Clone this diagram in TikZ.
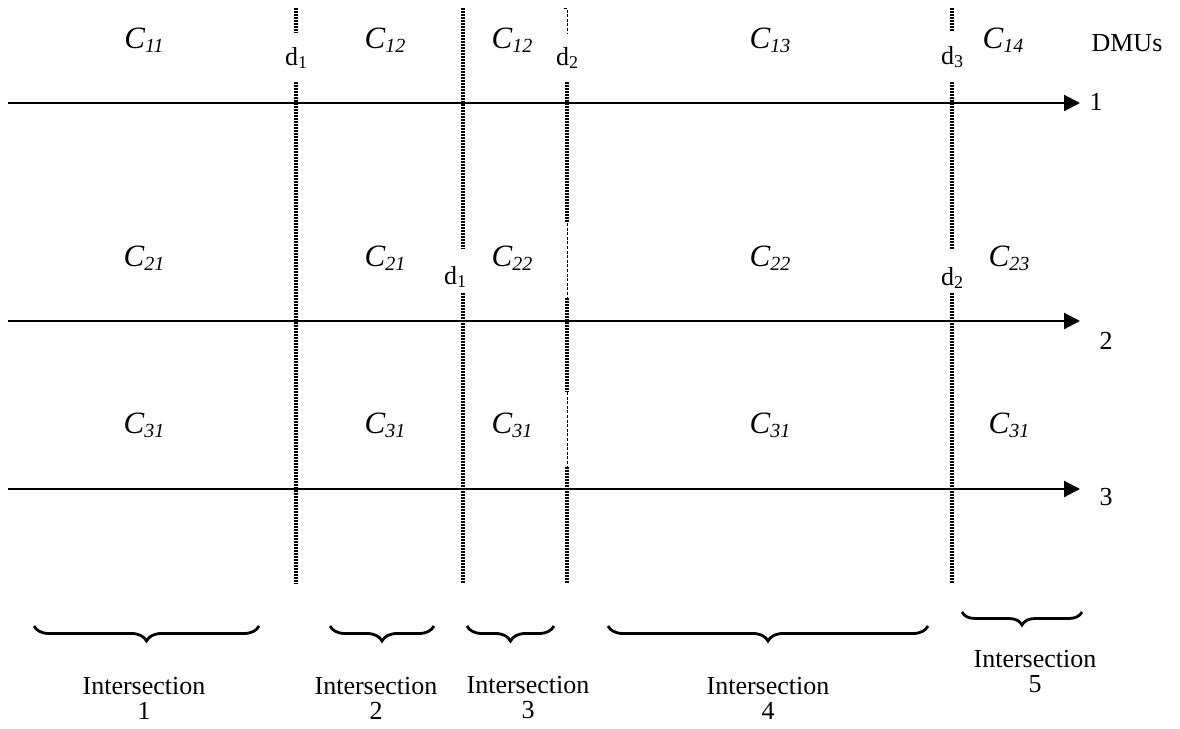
\documentclass[tikz,border=0pt]{standalone}
\usepackage{fontspec}
\setmainfont{Liberation Serif}
\usetikzlibrary{arrows.meta, decorations.pathreplacing}

\tikzset{
  axis/.style={line width=1.1pt, -{Triangle[length=8pt, width=8pt]}},
  beads/.style={line width=1.8pt, dash pattern=on 0.75pt off 0.75pt},
  thinseg/.style={line width=0.4pt, dash pattern=on 1.5pt off 0.8pt},
  cost/.style={font=\fontsize{15.5}{17}\selectfont\itshape},
  lbl/.style={font=\fontsize{13}{12.5}\selectfont},
  group/.style={decorate, decoration={brace, mirror, amplitude=7.5pt}, line width=1.4pt},
}
\newcommand{\cst}[1]{C\raisebox{-2pt}{\fontsize{10}{11}\selectfont #1}}
\newcommand{\dvar}[1]{d\raisebox{-1.8pt}{\fontsize{9}{10}\selectfont #1}}

\begin{document}
\begin{tikzpicture}[x=0.5pt, y=-0.5pt]
    \useasboundingbox (0,0) rectangle (1180,729);
    % DMU axes
    \foreach \r/\y in {1/103, 2/321, 3/489} {
      \coordinate (a\r) at (8,\y);
      \coordinate (b\r) at (1080,\y);
      \draw[axis] (a\r) -- (b\r);
    }
    \node[lbl] (dmus) at (1127,43) {DMUs};
    \node[lbl] (n1) at (1096,102) {1};
    \node[lbl] (n2) at (1106,341) {2};
    \node[lbl] (n3) at (1106,497) {3};
    % Dotted boundaries
    \foreach \x/\a/\b in {296/8/33, 296/82/584, 463/8/249, 463/293/584,
        567/82/223, 567/298/392, 567/467/584, 952/8/31, 952/82/249, 952/293/584}
      \draw[beads] (\x,\a) -- (\x,\b);
    \draw[thinseg] (564,8) -- (567,8) -- (567,33);
    \foreach \a/\b in {223/298, 392/467}
      \draw[thinseg] (567,\a) -- (567,\b);
    % Boundary labels
    \node[lbl] (d11) at (296,58) {\dvar{1}};
    \node[lbl] (d12) at (567,58) {\dvar{2}};
    \node[lbl] (d13) at (952,57) {\dvar{3}};
    \node[lbl] (d21) at (455,277) {\dvar{1}};
    \node[lbl] (d22) at (952,278) {\dvar{2}};
    % Costs, row 1
    \node[cost] (c11) at (144,40) {\cst{11}};
    \node[cost] (c12a) at (385,40) {\cst{12}};
    \node[cost] (c12b) at (512,40) {\cst{12}};
    \node[cost] (c13) at (770,40) {\cst{13}};
    \node[cost] (c14) at (1003,40) {\cst{14}};
    % Costs, row 2
    \node[cost] (c21a) at (144,258) {\cst{21}};
    \node[cost] (c21b) at (385,258) {\cst{21}};
    \node[cost] (c22a) at (512,258) {\cst{22}};
    \node[cost] (c22b) at (770,258) {\cst{22}};
    \node[cost] (c23) at (1009,258) {\cst{23}};
    % Costs, row 3
    \foreach \x [count=\i] in {144, 385, 512, 770, 1009}
      \node[cost] (c31\i) at (\x,425) {\cst{31}};
    % Intersections
    \draw[group] (34,626) -- (259,626);
    \draw[group] (330,626) -- (434,626);
    \draw[group] (467,626) -- (554,626);
    \draw[group] (608,626) -- (928,626);
    \draw[group, decoration={amplitude=6.5pt}] (962,612) -- (1082,612);
    \node[lbl, align=center] (i1) at (144,698) {Intersection\\1};
    \node[lbl, align=center] (i2) at (376,698) {Intersection\\2};
    \node[lbl, align=center] (i3) at (528,698) {Intersection\\3};
    \node[lbl, align=center] (i4) at (768,698) {Intersection\\4};
    \node[lbl, align=center] (i5) at (1035,672) {Intersection\\5};
\end{tikzpicture}
\end{document}
